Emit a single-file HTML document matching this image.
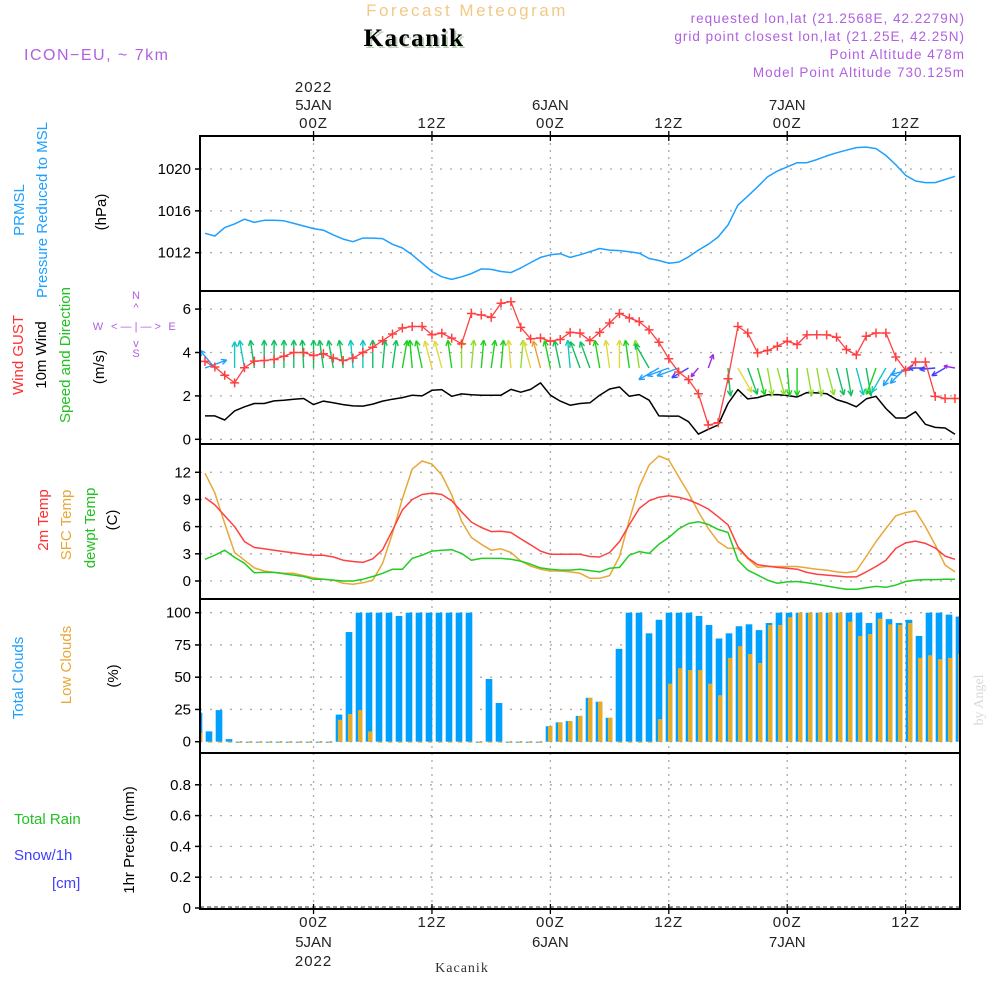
<!DOCTYPE html>
<html><head><meta charset="utf-8">
<style>
html,body{margin:0;padding:0;background:#fff;}
svg{display:block;font-family:"Liberation Sans",sans-serif;}
</style></head>
<body>
<svg id="chart" width="1000" height="1000" viewBox="0 0 1000 1000" xmlns="http://www.w3.org/2000/svg">
<defs><clipPath id="plotclip"><rect x="200" y="136" width="760" height="773"/></clipPath></defs>
<g>
<text x="467" y="16" text-anchor="middle" fill="#f2c987" font-size="17" letter-spacing="2.5">Forecast Meteogram</text>
<text x="416" y="48" text-anchor="middle" fill="#bcd0b8" font-size="25" font-weight="bold" font-family="Liberation Serif,serif" letter-spacing="1.5">Kacanik</text>
<text x="414" y="46" text-anchor="middle" fill="#000" font-size="25" font-weight="bold" font-family="Liberation Serif,serif" letter-spacing="1.5">Kacanik</text>
<text x="24" y="60" fill="#b060e0" font-size="16" letter-spacing="1.5">ICON−EU, ~ 7km</text>
<text x="965" y="23" text-anchor="end" fill="#b060e0" font-size="13.5" letter-spacing="1">requested lon,lat (21.2568E, 42.2279N)</text>
<text x="965" y="41" text-anchor="end" fill="#b060e0" font-size="13.5" letter-spacing="1">grid point closest lon,lat (21.25E, 42.25N)</text>
<text x="965" y="59" text-anchor="end" fill="#b060e0" font-size="13.5" letter-spacing="1">Point Altitude 478m</text>
<text x="965" y="77" text-anchor="end" fill="#b060e0" font-size="13.5" letter-spacing="1">Model Point Altitude 730.125m</text>
</g>
<g id="grid"></g>
<g id="marks" clip-path="url(#plotclip)"></g>
<g id="frames"></g>
<g id="labels"></g>
<g font-size="15">
<text transform="translate(24,210) rotate(-90)" text-anchor="middle" fill="#1ea0ff">PRMSL</text>
<text transform="translate(47,210) rotate(-90)" text-anchor="middle" fill="#1ea0ff">Pressure Reduced to MSL</text>
<text transform="translate(106,212) rotate(-90)" text-anchor="middle" fill="#000">(hPa)</text>
<text transform="translate(23,355) rotate(-90)" text-anchor="middle" fill="#ff3030">Wind GUST</text>
<text transform="translate(46,355) rotate(-90)" text-anchor="middle" fill="#000">10m Wind</text>
<text transform="translate(70,355) rotate(-90)" text-anchor="middle" fill="#22c022">Speed and Direction</text>
<text transform="translate(104,367) rotate(-90)" text-anchor="middle" fill="#000">(m/s)</text>
<g fill="#b060e0" font-size="11" text-anchor="middle">
<text x="136" y="299">N</text><text x="136" y="311">^</text><text x="136" y="330">&lt; — | — &gt;</text><text x="98" y="330">W</text><text x="172" y="330">E</text><text x="136" y="347">v</text><text x="136" y="357">S</text>
</g>
<text transform="translate(48,520) rotate(-90)" text-anchor="middle" fill="#ff3030">2m Temp</text>
<text transform="translate(71,525) rotate(-90)" text-anchor="middle" fill="#e8a838">SFC Temp</text>
<text transform="translate(95,528) rotate(-90)" text-anchor="middle" fill="#22c022">dewpt Temp</text>
<text transform="translate(117,520) rotate(-90)" text-anchor="middle" fill="#000">(C)</text>
<text transform="translate(23,678) rotate(-90)" text-anchor="middle" fill="#1ea0ff">Total Clouds</text>
<text transform="translate(71,665) rotate(-90)" text-anchor="middle" fill="#e8a838">Low Clouds</text>
<text transform="translate(118,676) rotate(-90)" text-anchor="middle" fill="#000">(%)</text>
<text x="14" y="824" fill="#22c022">Total  Rain</text>
<text x="14" y="860" fill="#4040ff">Snow/1h</text>
<text x="52" y="888" fill="#4040ff">[cm]</text>
<text transform="translate(134,840) rotate(-90)" text-anchor="middle" fill="#000">1hr Precip (mm)</text>
<text transform="translate(983,700) rotate(-90)" text-anchor="middle" fill="#d8d8d8" font-family="Liberation Serif,serif" font-size="14">by Angel</text>
<text x="462" y="972" text-anchor="middle" fill="#333" font-family="Liberation Serif,serif" font-size="14" letter-spacing="1">Kacanik</text>
</g>
</svg>
<script>
const pressure=[1013.85,1013.6,1014.4,1014.75,1015.2,1014.9,1015.1,1015.1,1015.05,1014.8,1014.55,1014.3,1014.15,1013.7,1013.3,1013.05,1013.4,1013.4,1013.35,1012.8,1012.45,1011.8,1011.0,1010.2,1009.7,1009.45,1009.7,1010.0,1010.45,1010.4,1010.2,1010.1,1010.55,1011.05,1011.55,1011.8,1011.9,1011.55,1011.8,1012.1,1012.4,1012.25,1012.2,1012.1,1011.95,1011.45,1011.25,1011.0,1011.1,1011.6,1012.25,1012.8,1013.5,1014.65,1016.55,1017.4,1018.3,1019.25,1019.8,1020.2,1020.6,1020.6,1020.9,1021.25,1021.55,1021.8,1022.05,1022.1,1021.95,1021.3,1020.4,1019.4,1018.85,1018.7,1018.7,1019.0,1019.3];
const gust=[3.59,3.33,2.95,2.6,3.3,3.6,3.63,3.68,3.83,4.0,4.0,3.86,3.94,3.74,3.63,3.74,4.0,4.24,4.55,4.85,5.13,5.2,5.2,4.82,4.89,4.66,4.4,5.8,5.73,5.62,6.27,6.34,5.16,4.63,4.67,4.52,4.6,4.93,4.89,4.55,4.93,5.36,5.8,5.59,5.42,5.04,4.47,3.71,3.1,2.75,2.1,0.66,0.76,2.79,5.2,4.9,3.98,4.09,4.29,4.52,4.37,4.81,4.82,4.81,4.7,4.14,3.89,4.75,4.9,4.9,3.79,3.18,3.56,3.56,1.98,1.88,1.88];
const wind10=[1.08,1.08,0.89,1.31,1.5,1.65,1.65,1.77,1.8,1.85,1.88,1.6,1.76,1.68,1.6,1.54,1.53,1.62,1.76,1.85,1.92,2.03,2.0,2.26,2.29,1.98,2.09,2.05,2.03,2.03,2.03,2.3,2.17,2.3,2.6,2.03,1.76,1.57,1.65,1.68,2.03,2.32,2.41,1.98,2.06,1.8,1.08,1.07,1.07,0.81,0.24,0.46,0.66,1.65,2.29,1.86,1.92,2.05,2.06,2.02,1.95,2.15,2.14,2.1,1.83,1.69,1.5,1.86,1.98,1.42,0.98,0.98,1.27,0.69,0.55,0.52,0.23];
const windDir=[70,-40,null,0,-10,-8,0,0,0,0,-3,0,-8,-10,-8,-5,0,0,5,8,10,-5,-12,-15,-15,-8,0,5,5,8,5,-5,5,-15,-15,-12,-12,-5,-20,-20,-10,-8,0,-8,-8,-30,240,250,250,240,220,20,null,175,150,160,165,170,165,175,180,170,170,165,165,170,165,170,200,210,215,225,255,270,265,240,280];
const temp2m=[9.2,8.4,7.2,6.0,4.35,3.7,3.55,3.4,3.25,3.1,2.95,2.85,2.85,2.65,2.3,2.15,2.05,2.45,3.45,5.6,7.85,9.0,9.55,9.7,9.55,8.85,7.65,6.5,5.9,5.45,5.5,5.35,4.65,4.0,3.3,2.95,2.95,2.95,2.95,2.7,2.65,3.15,4.35,6.2,8.0,8.85,9.25,9.4,9.25,8.95,8.5,7.95,7.1,6.2,3.8,2.55,1.8,1.65,1.5,1.4,1.3,0.95,0.75,0.65,0.55,0.45,0.45,1.0,1.6,2.3,3.6,4.2,4.4,4.15,3.65,2.75,2.4];
const tempSfc=[11.9,9.7,6.35,3.15,2.3,1.45,1.1,0.95,0.85,0.85,0.6,0.35,0.2,0.1,-0.25,-0.35,-0.2,0.1,1.95,5.25,9.1,12.35,13.25,12.9,11.7,9.5,6.6,4.8,4.05,3.4,3.55,3.15,2.2,1.65,1.3,1.1,1.1,1.0,0.85,0.3,0.3,0.6,2.7,6.75,10.4,12.8,13.8,13.35,11.5,9.7,7.65,5.8,4.35,3.6,3.6,2.5,1.5,1.6,1.6,1.6,1.6,1.45,1.3,1.2,1.0,0.9,1.1,2.7,4.35,5.8,7.2,7.55,7.75,6.0,4.0,1.75,1.0];
const dewpt=[2.4,2.85,3.4,2.6,1.95,0.9,0.95,0.95,0.8,0.65,0.5,0.2,0.2,0.1,0.0,0.0,0.2,0.5,0.85,1.3,1.3,2.5,2.85,3.3,3.4,3.45,3.05,2.3,2.5,2.5,2.5,2.4,2.2,1.85,1.45,1.3,1.2,1.2,1.3,1.15,1.0,1.4,1.5,2.85,3.25,3.05,4.05,4.8,5.75,6.35,6.55,6.25,5.7,5.35,2.3,1.2,0.65,0.1,-0.25,-0.1,-0.05,-0.2,-0.35,-0.55,-0.75,-0.9,-0.9,-0.75,-0.6,-0.7,-0.45,-0.05,0.1,0.15,0.15,0.2,0.2];
const totalCloud=[22.5,8,24.5,2,0,0,0,0,0,0,0,0,0,0,21,85,100,100,100,100,97.5,100,100,100,100,100,100,100,0,48.6,30,0,0,0,0,12,15,16,20,34,31,18.5,72,100,100,84,94.5,100,100,100,97.5,90.5,80,84,89.5,91,86.5,92,100,100,100,100,100,100,100,100,100,92,100,95,92,94.5,82,100,100,98.5,97];
const lowCloud=[7,0,0,0,0,0,0,0,0,0,0,0,0,0,17,21.5,24.5,8,0,0,0,0,0,0,0,0,0,0,0,0,0,0,0,0,0,12,15,16,20,34,31,18.5,0,0,0,0,17.5,45,57,55.5,55.5,45,36,65,74,68,61,90.5,90.5,96.5,100,100,100,100,100,93,82,83.5,95.5,91,90.5,92,65,67,64,65,68];
const precip=[];
const pTicks=[1012,1016,1020];
const wTicks=[0,2,4,6];
const tTicks=[0,3,6,9,12];
const cTicks=[0,25,50,75,100];
const rTicks=[0,0.2,0.4,0.6,0.8];
const timeTickHours=[11,23,35,47,59,71];
const timeTickLabels=["00Z","12Z","00Z","12Z","00Z","12Z"];
const dateLabels=["5JAN","","6JAN","","7JAN",""];

const NS="http://www.w3.org/2000/svg";
const X0=205, DX=9.868;
function x(h){return X0+DX*h;}
function xb(k){return 199+10*k;}
function yP(v){return 252.7-(v-1012)*10.46;}
function yW(v){return 439.3-v*21.7;}
function yT(v){return 581-v*9.06;}
function yC(v){return 741.7-v*1.29;}
function yR(v){return 908-v*154;}
const L=200,R=960;
function el(tag,attrs,parent){const e=document.createElementNS(NS,tag);for(const k in attrs)e.setAttribute(k,attrs[k]);parent.appendChild(e);return e;}
const grid=document.getElementById('grid'),marks=document.getElementById('marks'),frames=document.getElementById('frames'),labels=document.getElementById('labels');
const panels=[{t:136,b:291,ticks:pTicks,y:yP},{t:291,b:444,ticks:wTicks,y:yW},{t:444,b:599,ticks:tTicks,y:yT},{t:599,b:753,ticks:cTicks,y:yC},{t:753,b:909,ticks:rTicks,y:yR}];
panels.forEach((p,pi)=>{
  timeTickHours.forEach(h=>{
    const g=el('line',{x1:x(h),x2:x(h),y1:p.t,y2:p.b,stroke:'#aaa','stroke-width':1.3,'stroke-dasharray':'2 5'},grid);
    
    
  });
  p.ticks.forEach(v=>{
    const yy=p.y(v);
    const g=el('line',{x1:L,x2:R,y1:yy,y2:yy,stroke:'#aaa','stroke-width':1.3,'stroke-dasharray':'2 8'},grid);
    
    
    const tk=el('line',{x1:L-5,x2:L,y1:yy,y2:yy,stroke:'#000','stroke-width':1.5},frames);
    
    
    const t=el('text',{x:L-9,y:yy+5,'text-anchor':'end','font-size':15,fill:'#000'},labels);
    t.textContent=(pi===4&&v!==0)?v.toFixed(1):String(v);
    
    
  });
  const fr=el('rect',{x:L,y:p.t,width:R-L,height:p.b-p.t,fill:'none',stroke:'#000','stroke-width':2},frames);
  
  
});
timeTickHours.forEach((h,i)=>{
  [136,909].forEach(yy=>{
    const tk=el('line',{x1:x(h),x2:x(h),y1:yy-5,y2:yy+5,stroke:'#000','stroke-width':1.3},frames);
    
    
  });
  const t=el('text',{x:x(h),y:128,'text-anchor':'middle','font-size':15,fill:'#222','letter-spacing':1},labels);
  t.textContent=timeTickLabels[i];
  
  
  const b=el('text',{x:x(h),y:927,'text-anchor':'middle','font-size':15,fill:'#222','letter-spacing':1},labels);
  b.textContent=timeTickLabels[i];
  
  
  if(dateLabels[i]){
    const d=el('text',{x:x(h),y:110,'text-anchor':'middle','font-size':15,fill:'#222'},labels);
    d.textContent=dateLabels[i];
    
    
    const d2=el('text',{x:x(h),y:947,'text-anchor':'middle','font-size':15,fill:'#222'},labels);
    d2.textContent=dateLabels[i];
    
    
  }
  if(i===0){
    const y1=el('text',{x:x(h),y:92,'text-anchor':'middle','font-size':15,fill:'#222','letter-spacing':1},labels);
    y1.textContent='2022';
    
    
    const y2=el('text',{x:x(h),y:966,'text-anchor':'middle','font-size':15,fill:'#222','letter-spacing':1},labels);
    y2.textContent='2022';
    
    
  }
});
function line(arr,yf,color,w,name){
  const pts=arr.map((v,i)=>x(i).toFixed(1)+','+yf(v).toFixed(1)).join(' ');
  const p=el('polyline',{points:pts,fill:'none',stroke:color,'stroke-width':w,'stroke-linejoin':'round'},marks);
  
  
}
totalCloud.forEach((v,k)=>{
  const yy=yC(v);
  const r=el('rect',{x:xb(k)-3.3,y:yy,width:6.6,height:Math.max(yC(0)-yy,1),fill:'#00a0ff'},marks);
  
  
});
lowCloud.forEach((v,k)=>{
  const yy=yC(v);
  const r=el('rect',{x:xb(k)-1,y:yy,width:4.4,height:Math.max(yC(0)-yy,1),fill:'#e6ad2a'},marks);
  
  
});
const pb=el('line',{x1:L,x2:R,y1:yR(0)-1,y2:yR(0)-1,stroke:'#333','stroke-width':1,'stroke-dasharray':'4 3'},marks);


line(pressure,yP,'#1ea0ff',1.5,'pressure-line');
line(tempSfc,yT,'#e8a838',1.5,'sfc-temp-line');
line(temp2m,yT,'#ff4040',1.5,'temp-2m-line');
line(dewpt,yT,'#22cc22',1.5,'dewpt-line');
line(wind10,yW,'#000',1.5,'wind-10m-line');
function wcol(s){if(s<0.5)return '#9a30e0';if(s<0.9)return '#4040ff';if(s<1.3)return '#20a0ff';if(s<1.6)return '#10c8c0';if(s<1.9)return '#10c060';if(s<2.05)return '#20d020';if(s<2.2)return '#90dd30';if(s<2.45)return '#e0d840';return '#e8a030';}
windDir.forEach((d,i)=>{
  if(d===null)return;
  const s=wind10[i];
  const len=Math.min(28,8+14*s);
  const a=d*Math.PI/180;
  const bx=x(i), by=368;
  const tx=bx+len*Math.sin(a), ty=by-len*Math.cos(a);
  const c=wcol(s);
  const g=el('g',{stroke:c,'stroke-width':1.4,fill:'none'},marks);
  
  
  el('line',{x1:bx,y1:by,x2:tx,y2:ty},g);
  const h=Math.min(6,len*0.35);
  [0.45,-0.45].forEach(da=>{
    const aa=a+Math.PI+da;
    el('line',{x1:tx,y1:ty,x2:tx+h*Math.sin(aa),y2:ty-h*Math.cos(aa)},g);
  });
});
line(gust,yW,'#ff4040',1.3,'gust-line');
gust.forEach((v,i)=>{
  const g=el('path',{d:`M${x(i)-4.5},${yW(v)}h9M${x(i)},${yW(v)-4.5}v9`,stroke:'#ff4040','stroke-width':1.5},marks);
  
  
});
</script>
</body></html>
